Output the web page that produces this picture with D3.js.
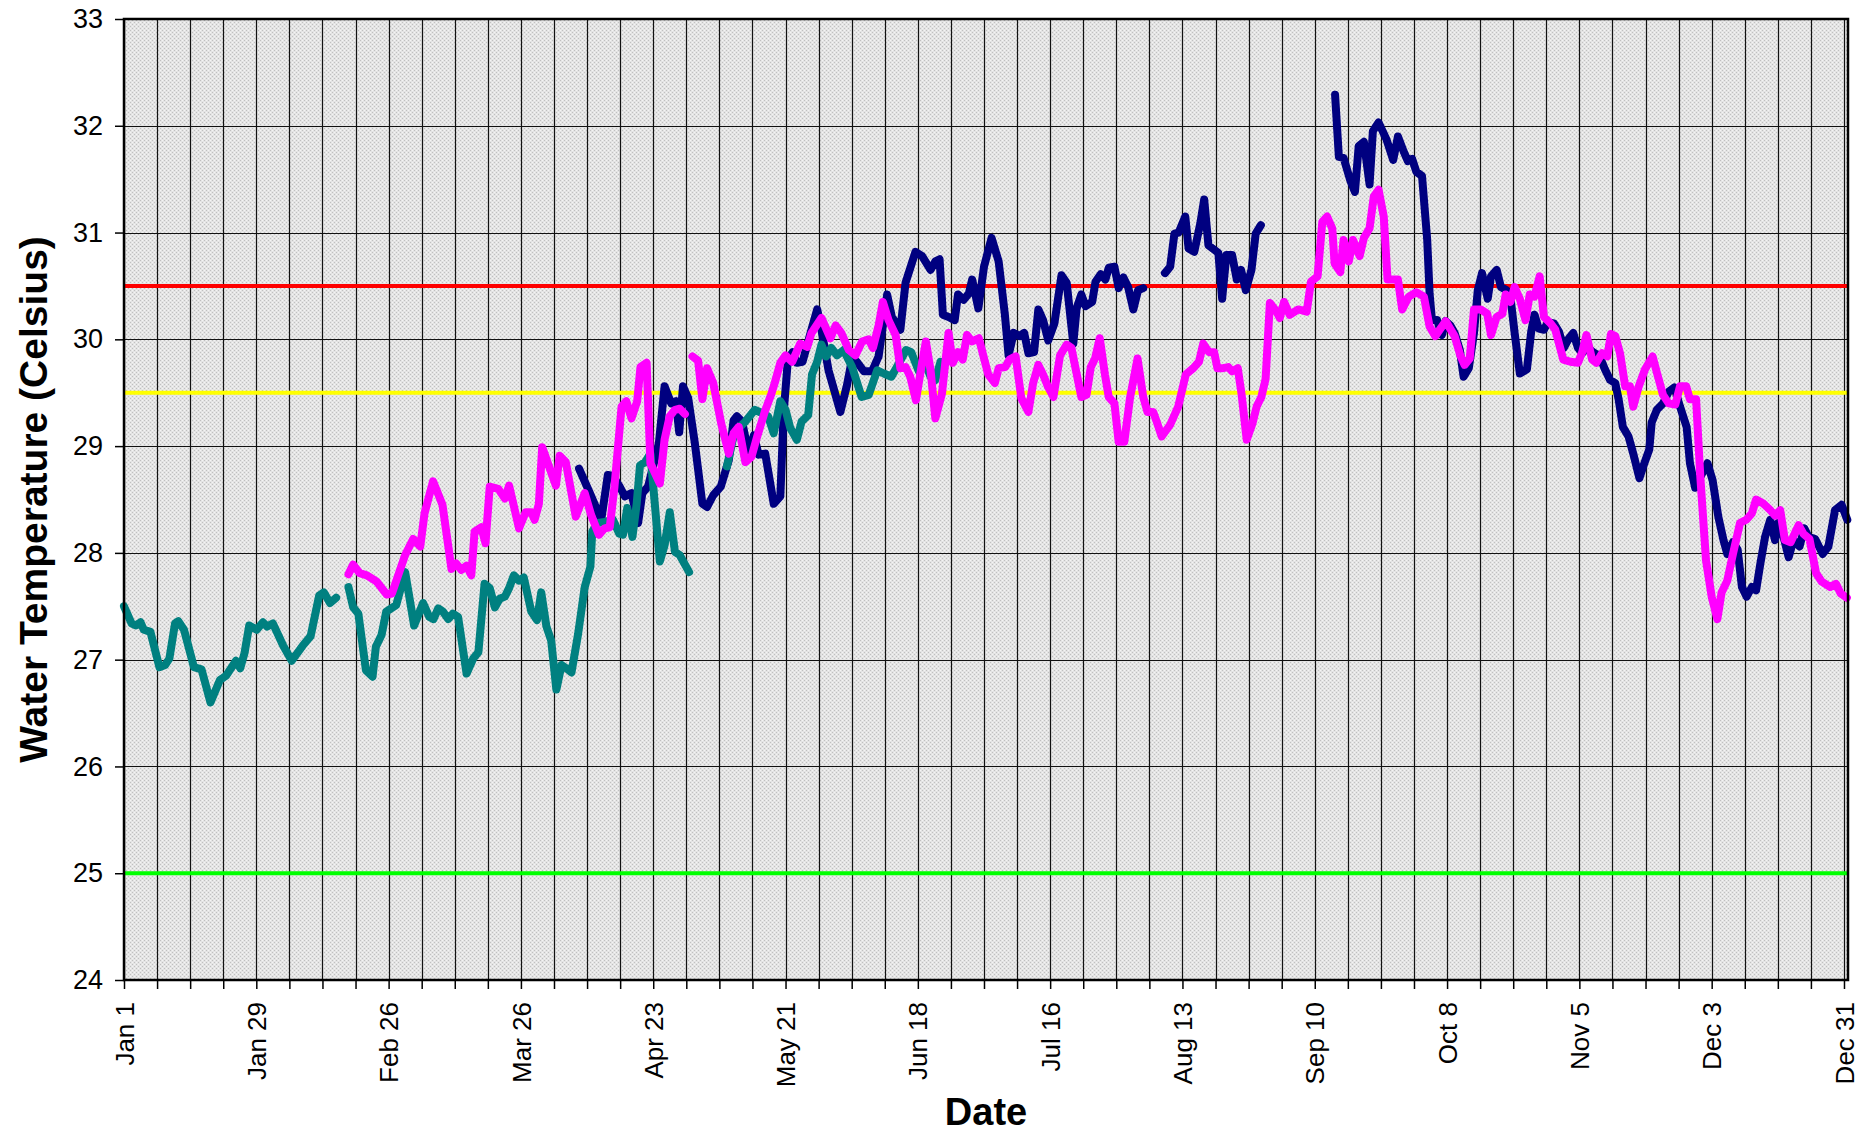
<!DOCTYPE html>
<html>
<head>
<meta charset="utf-8">
<script src="https://cdn.jsdelivr.net/npm/d3@7"></script>
<style>
  body { margin: 0; background: #fff; }
  svg text { font-family: Arial, "Liberation Sans", sans-serif; }
</style>
</head>
<body>
<svg id="chart" width="1873" height="1132"></svg>
<script>
// day of year (0 = Jan 1), water temp in celsius; null = gap in record
var tealTemps = [
  [0,27.50],[1.6,27.34],[2.5,27.32],[3.5,27.35],[4.2,27.28],[5.6,27.26],[7.5,26.93],[8.7,26.95],[9.6,27.01],
  [10.8,27.34],[11.5,27.36],[12.7,27.28],[14.8,26.93],[16.4,26.91],[18.3,26.60],[20.3,26.81],[21.6,26.85],
  [23.7,26.99],[24.6,26.92],[25.5,27.06],[26.5,27.32],[28.1,27.28],[29.4,27.35],[30.3,27.31],[31.5,27.34],
  [33.7,27.13],[35.5,26.99],[37.8,27.13],[39.5,27.22],[41.3,27.60],[42.3,27.63],[43.6,27.53],[44.9,27.58],
  null,
  [47.5,27.68],[48.5,27.49],[49.6,27.43],[51.2,26.90],[52.6,26.84],[53.3,27.12],[54.5,27.23],[55.5,27.45],
  [57.6,27.51],[59.5,27.82],[61.4,27.32],[63.3,27.53],[64.6,27.40],[65.5,27.38],[66.5,27.48],[67.5,27.45],
  [68.6,27.38],[69.6,27.43],[70.7,27.40],[72.5,26.87],[73.9,27.01],[75,27.07],[76.3,27.71],[77.4,27.67],
  [78.5,27.49],[79.5,27.57],[80.6,27.59],[81.5,27.67],[82.5,27.79],[83.6,27.74],[84.6,27.77],[86.2,27.45],
  [87.4,27.37],[88.3,27.63],[89.4,27.31],[90.4,27.18],[91.5,26.72],[92.6,26.95],[93.6,26.92],[94.7,26.88],
  [96.1,27.24],[97.5,27.68],[98.7,27.87],[99.1,28.20],[100.3,28.28],[101.7,28.29],[103.5,28.31],[104.8,28.18],
  [105.6,28.17],[106.5,28.42],[107.6,28.15],[108.5,28.46],[109.2,28.82],[110.3,28.85],[111.4,28.93],
  [113.4,27.92],[114.4,28.07],[115.5,28.38],[116.6,28.01],[117.6,27.98],[119.6,27.82],
  null,
  [127.6,28.81],[129,29.09],[130.1,29.17],[131.5,29.23],[133.5,29.34],[135,29.31],[136.3,29.28],[137.5,29.12],
  [138.9,29.42],[140,29.34],[141,29.17],[142.4,29.06],[143.4,29.23],[144.8,29.29],[145.6,29.67],[146.7,29.79],
  [147.6,29.95],[148.6,29.84],[149.7,29.92],[150.9,29.85],[152.3,29.90],[154.1,29.74],[156.1,29.46],
  [157.6,29.48],[159.4,29.71],[160.8,29.68],[162.4,29.65],[163.8,29.76],[165.5,29.90],[166.6,29.88],
  [168.2,29.70],[169.5,29.78],[170.7,29.65],[171.7,29.62],[172.8,29.79]
];

var magentaTemps = [
  [47.5,27.80],[48.5,27.89],[49.9,27.81],[51.4,27.79],[53.5,27.73],[55.6,27.61],[56.7,27.62],[59.5,27.98],
  [61.2,28.13],[62.7,28.06],[63.6,28.37],[65.4,28.67],[67.4,28.45],[69.3,27.85],[70.3,27.90],[71.4,27.84],
  [72.5,27.88],[73.5,27.79],[74.2,28.20],[75.6,28.24],[76.5,28.09],[77.4,28.62],[79.2,28.60],[80.6,28.51],
  [81.5,28.63],[83.6,28.23],[85,28.38],[86.2,28.38],[86.9,28.31],[87.8,28.46],[88.5,28.99],[89.7,28.84],
  [91.4,28.63],[92.2,28.91],[93.5,28.85],[95.6,28.34],[97.5,28.56],[98.9,28.35],[100.5,28.17],[101.7,28.23],
  [102.8,28.24],[103.8,28.62],[105.3,29.37],[106.3,29.42],[107.4,29.26],[108.6,29.42],[109.3,29.74],
  [110.6,29.78],[111.4,28.84],[113.4,28.65],[114.4,29.06],[115.5,29.28],[116.6,29.34],[117.6,29.35],[118.7,29.30],
  null,
  [120.3,29.84],[121.5,29.80],[122.4,29.44],[123.4,29.73],[124.7,29.59],[126.4,29.21],[128,28.93],[129,29.12],
  [130.1,29.18],[131.5,28.85],[132.8,28.90],[134,29.09],[135.6,29.32],[137,29.49],[137.7,29.59],[138.9,29.78],
  [140,29.85],[141.4,29.79],[143.1,29.96],[144.6,29.93],[145.5,30.06],[147.6,30.20],[149.5,30.01],[150.6,30.13],
  [151.8,30.06],[153.4,29.90],[154.8,29.85],[156.2,29.98],[157.6,30.00],[158.5,29.92],[159.7,30.13],[160.6,30.35],
  [161.8,30.18],[163.3,30.04],[164.3,29.73],[165.4,29.74],[166.4,29.65],[167.6,29.43],[168.9,29.78],[169.7,29.98],
  [170.7,29.71],[171.7,29.26],[173.1,29.49],[174.5,30.06],[175.4,29.78],[176.5,29.88],[177.5,29.81],[178.4,30.04],
  [179.5,29.98],[180.9,30.01],[182.9,29.67],[184.3,29.59],[185.1,29.73],[186.5,29.74],[187.4,29.81],[188.7,29.84],
  [189.9,29.45],[191.4,29.32],[192.4,29.59],[193.5,29.76],[194.5,29.67],[195.5,29.56],[196.7,29.46],[198.1,29.85],
  [199.5,29.95],[200.5,29.92],[202.6,29.46],[203.7,29.48],[204.6,29.74],[205.5,29.82],[206.5,30.01],[207.6,29.67],
  [208.4,29.46],[209.6,29.40],[210.5,29.04],[211.7,29.04],[212.9,29.45],[214.5,29.82],[215.7,29.46],[216.6,29.32],
  [217.8,29.32],[218.7,29.21],[219.6,29.09],[221.4,29.20],[223.1,29.37],[224.7,29.67],[226.3,29.73],[227.5,29.79],
  [228.4,29.96],[229.6,29.88],[230.7,29.88],[231.4,29.73],[232.6,29.73],[233.7,29.74],[234.5,29.70],[235.7,29.73],
  [236.5,29.49],[237.6,29.06],[238.8,29.21],[239.7,29.37],[240.7,29.46],[241.6,29.63],[242.5,30.34],[243.9,30.26],
  [244.6,30.20],[245.5,30.35],[246.7,30.23],[248.5,30.28],[250.3,30.26],[251.2,30.54],[252.6,30.59],[253.6,31.10],
  [254.6,31.15],[255.7,31.04],[256.2,30.71],[257.4,30.63],[258.1,30.93],[259.2,30.73],[260.1,30.93],[261.5,30.78],
  [262.4,30.95],[263.6,31.04],[264.5,31.34],[265.5,31.40],[266.6,31.15],[267.4,30.56],[269.6,30.56],[270.5,30.28],
  [271.9,30.40],[273.5,30.44],[275.1,30.40],[276.3,30.12],[277.5,30.03],[279.7,30.17],[281.6,30.03],[282.8,29.85],
  [283.7,29.76],[284.8,29.82],[285.7,30.28],[287.1,30.28],[288.5,30.24],[289.3,30.04],[290.5,30.21],[291.7,30.24],
  [292.4,30.42],[293.4,30.35],[294.3,30.49],[295.4,30.38],[296.6,30.18],[297.5,30.42],[298.5,30.40],[299.6,30.59],
  [300.5,30.21],[301.9,30.15],[302.9,30.09],[304.6,29.81],[306.1,29.79],[307.7,29.78],[308.6,29.88],[309.5,30.04],
  [310.7,29.81],[311.6,29.78],[312.8,29.87],[313.9,29.84],[314.7,30.05],[315.6,30.03],[316.6,29.87],[317.7,29.56],
  [318.7,29.56],[319.4,29.37],[320.5,29.55],[321.9,29.72],[323.5,29.84],[324.4,29.69],[325.7,29.48],[326.9,29.40],
  [328.3,29.39],[329.3,29.56],[330.6,29.56],[331.4,29.44],[332.7,29.44],[333.6,28.71],[334.8,27.93],[336,27.59],
  [337.2,27.38],[338.1,27.63],[339.3,27.74],[340.5,27.99],[342,28.28],[343.3,28.31],[344.5,28.37],[345.4,28.50],
  [347,28.46],[348.4,28.40],[349.4,28.35],[350.5,28.40],[351.5,28.12],[352.7,28.10],[354.4,28.26],[355.4,28.18],
  [356.7,28.13],[358.1,27.81],[359.3,27.73],[361.1,27.68],[362.3,27.71],[363.3,27.62],[364.6,27.58]
];

var navyTemps = [
  [96.3,28.79],[98.6,28.56],[101.0,28.31],[102.4,28.73],[103.5,28.72],[104.9,28.62],[106,28.53],[107.4,28.56],
  [108.8,28.28],[109.7,28.56],[110.9,28.62],[113.2,29.03],[114.4,29.56],[115.8,29.40],[116.8,29.42],[117.5,29.13],
  [118.3,29.56],[119.4,29.45],[120.8,29.03],[122.4,28.46],[123.4,28.43],[124.7,28.54],[126.3,28.62],[128,28.87],
  [129,29.24],[129.7,29.28],[130.8,29.23],[132.2,28.93],[133.3,29.10],[134.3,28.92],[135.7,28.93],[137.5,28.46],
  [138.9,28.53],[139.6,29.31],[140.5,29.81],[141.5,29.88],[142.4,29.78],[143.6,29.79],[145.3,30.06],[146.7,30.28],
  [147.6,30.09],[149.1,29.71],[151.6,29.32],[153,29.57],[154.1,29.82],[155.1,29.79],[156.6,29.70],[158.3,29.70],
  [159.7,29.84],[161.5,30.42],[162.5,30.21],[164.3,30.09],[165.4,30.53],[167.5,30.82],[168.9,30.78],[170.7,30.65],
  [171.7,30.73],[172.6,30.75],[173.3,30.23],[174.5,30.21],[175.8,30.18],[176.5,30.42],[177.7,30.37],[178.8,30.43],
  [179.5,30.56],[180.8,30.29],[182,30.68],[183.6,30.95],[185.1,30.73],[186.4,30.24],[187.2,29.85],[188.3,30.06],
  [189.5,30.03],[190.5,30.06],[191.4,29.87],[192.6,29.88],[193.5,30.28],[194.5,30.18],[195.6,29.99],[196.9,30.15],
  [198.4,30.60],[199.5,30.53],[200.9,29.96],[201.6,30.29],[202.6,30.42],[203.5,30.31],[204.9,30.35],[205.6,30.54],
  [206.7,30.61],[207.7,30.56],[208.4,30.67],[209.6,30.68],[210.5,30.48],[211.5,30.58],[212.5,30.49],[213.6,30.28],
  [214.6,30.46],[215.7,30.48],
  null,
  [220.3,30.62],[221.4,30.68],[222.3,30.99],[223.2,31.00],[224.6,31.15],[225.3,30.85],[226.5,30.82],[227.8,31.09],
  [228.6,31.31],[229.5,30.88],[230.7,30.84],[231.6,30.81],[232.4,30.38],[233.3,30.79],[234.5,30.79],[235.5,30.56],
  [236.4,30.65],[237.4,30.46],[238.6,30.65],[239.5,30.99],[240.6,31.07],
  null,
  [256.3,32.29],[257.1,31.71],[258.1,31.70],[259.5,31.49],[260.5,31.38],[261.3,31.81],[262.4,31.85],[263.6,31.45],
  [264.3,31.95],[265.5,32.03],[267.2,31.87],[268.6,31.68],[269.6,31.90],[270.8,31.76],[271.7,31.67],[272.6,31.69],
  [273.5,31.57],[274.7,31.53],[275.8,30.93],[276.3,30.43],[276.8,30.18],[277.9,30.18],[278.9,30.04],[279.7,30.17],
  [280.7,30.13],[281.6,30.06],[282.7,29.90],[283.5,29.65],[284.6,29.73],[285.7,30.06],[286.5,30.46],[287.4,30.62],
  [288.6,30.38],[289.3,30.59],[290.5,30.65],[291.4,30.49],[292.6,30.46],[293.4,30.40],[294.3,30.06],[295.4,29.68],
  [296.9,29.72],[297.8,30.07],[298.5,30.23],[299.4,30.10],[300.5,30.09],[301.3,30.16],[302.6,30.15],[303.7,30.07],
  [304.7,29.92],[305.8,30.01],[306.7,30.06],[307.7,29.92],[308.6,29.87],[309.6,29.93],[310.9,29.88],[312.3,29.84],
  [313.4,29.72],[314.5,29.62],[315.6,29.59],[316.3,29.44],[317.2,29.18],[318.4,29.09],[319.4,28.93],[320.7,28.70],
  [321.6,28.82],[322.8,28.97],[323.3,29.22],[324.4,29.34],[325.7,29.40],[326.9,29.51],[328.1,29.55],[329.3,29.37],
  [330.7,29.18],[331.4,28.84],[332.5,28.61],[333.6,28.71],[335.1,28.84],[336.2,28.68],[337.4,28.34],[338.5,28.12],
  [339.3,27.99],[340.5,28.10],[341.5,28.03],[342.4,27.68],[343.4,27.59],[344.5,27.68],[345.4,27.65],[346.3,27.90],
  [347.3,28.15],[348.4,28.31],[349.4,28.12],[350.1,28.28],[351.2,28.15],[352.3,27.96],[353.3,28.12],[354.6,28.06],
  [355.6,28.23],[356.5,28.15],[357.9,28.13],[359.5,27.99],[360.7,28.06],[362.1,28.40],[363.5,28.45],[364.7,28.31]
];

var xTickLabels = ["Jan 1","Jan 29","Feb 26","Mar 26","Apr 23","May 21","Jun 18",
                   "Jul 16","Aug 13","Sep 10","Oct 8","Nov 5","Dec 3","Dec 31"];
var yTicks = [24,25,26,27,28,29,30,31,32,33];
var thresholdTemps = [25, 29.5, 30.5];
var thresholdColors = ["#00ff00", "#ffff00", "#ff0000"];

var plotLeft = 124, plotRight = 1848, plotTop = 19, plotBottom = 980;

var svg = d3.select("#chart");

var x = d3.scaleLinear().domain([0, 364.85]).range([plotLeft, plotRight]);
var y = d3.scaleLinear().domain([24, 33]).range([plotBottom, plotTop]);

// background fill, fine grey stipple
var defs = svg.append("defs");
var pat = defs.append("pattern")
  .attr("id", "stipple")
  .attr("width", 4).attr("height", 4)
  .attr("patternUnits", "userSpaceOnUse");
pat.append("rect").attr("width", 4).attr("height", 4).attr("fill", "#e4e4e4");
pat.append("rect").attr("x", 0).attr("y", 0).attr("width", 1).attr("height", 1).attr("fill", "#c0c0c0");
pat.append("rect").attr("x", 2).attr("y", 2).attr("width", 1).attr("height", 1).attr("fill", "#c0c0c0");
pat.append("rect").attr("x", 2).attr("y", 0).attr("width", 1).attr("height", 1).attr("fill", "#f4f4f4");
pat.append("rect").attr("x", 0).attr("y", 2).attr("width", 1).attr("height", 1).attr("fill", "#f4f4f4");

svg.append("rect")
  .attr("x", plotLeft).attr("y", plotTop)
  .attr("width", plotRight - plotLeft).attr("height", plotBottom - plotTop)
  .attr("fill", "url(#stipple)");

var weeks = d3.range(0, 365, 7);

// grid
svg.append("g").selectAll("line")
  .data(weeks)
  .enter().append("line")
  .attr("x1", function(d){ return Math.round(x(d)) + 0.5 })
  .attr("x2", function(d){ return Math.round(x(d)) + 0.5 })
  .attr("y1", plotTop).attr("y2", plotBottom)
  .attr("stroke", "#111").attr("stroke-width", 1.2);

svg.append("g").selectAll("line")
  .data(yTicks.slice(1, -1))
  .enter().append("line")
  .attr("x1", plotLeft).attr("x2", plotRight)
  .attr("y1", function(d){ return Math.round(y(d)) + 0.5 })
  .attr("y2", function(d){ return Math.round(y(d)) + 0.5 })
  .attr("stroke", "#111").attr("stroke-width", 1.2);

// threshold lines
svg.append("g").selectAll("line")
  .data(thresholdTemps)
  .enter().append("line")
  .attr("x1", plotLeft).attr("x2", plotRight)
  .attr("y1", function(d){ return y(d) })
  .attr("y2", function(d){ return y(d) })
  .attr("stroke", function(d, i){ return thresholdColors[i] })
  .attr("stroke-width", 4);

// series
var line = d3.line()
  .defined(function(d){ return d !== null })
  .x(function(d){ return x(d[0]) })
  .y(function(d){ return y(d[1]) });

var series = [
  {data: navyTemps, color: "#000080"},
  {data: tealTemps, color: "#008080"},
  {data: magentaTemps, color: "#ff00ff"}
];

svg.append("g").selectAll("path")
  .data(series)
  .enter().append("path")
  .attr("d", function(d){ return line(d.data) })
  .attr("fill", "none")
  .attr("stroke", function(d){ return d.color })
  .attr("stroke-width", 8)
  .attr("stroke-linejoin", "round")
  .attr("stroke-linecap", "round");

// frame
svg.append("rect")
  .attr("x", plotLeft).attr("y", plotTop)
  .attr("width", plotRight - plotLeft).attr("height", plotBottom - plotTop)
  .attr("fill", "none").attr("stroke", "#000").attr("stroke-width", 2.5);

// axes
var yAxis = d3.axisLeft(y).tickValues(yTicks).tickSize(9).tickPadding(12);
var gy = svg.append("g").attr("transform", "translate(" + plotLeft + ",0)").call(yAxis);
gy.select(".domain").remove();
gy.selectAll("line").attr("stroke", "#000").attr("stroke-width", 1.5);
gy.selectAll("text").attr("font-size", 27).attr("fill", "#000")
  .attr("font-family", "Arial, 'Liberation Sans', sans-serif");

var xAxis = d3.axisBottom(x).tickValues(weeks).tickSize(9)
  .tickFormat(function(d, i){ return i % 4 === 0 ? xTickLabels[i / 4] : "" });
var gx = svg.append("g").attr("transform", "translate(0," + plotBottom + ")").call(xAxis);
gx.select(".domain").remove();
gx.selectAll("line").attr("stroke", "#000").attr("stroke-width", 1.5);
gx.selectAll("text")
  .attr("font-size", 26).attr("fill", "#000")
  .attr("font-family", "Arial, 'Liberation Sans', sans-serif")
  .attr("transform", "rotate(-90)")
  .attr("text-anchor", "end")
  .attr("x", -22).attr("y", 0).attr("dy", "0.35em");

// titles
svg.append("text")
  .attr("x", (plotLeft + plotRight) / 2).attr("y", 1125)
  .attr("text-anchor", "middle")
  .attr("font-size", 38).attr("font-weight", "bold")
  .text("Date");

svg.append("text")
  .attr("transform", "translate(47," + (plotTop + plotBottom) / 2 + ") rotate(-90)")
  .attr("text-anchor", "middle")
  .attr("font-size", 39).attr("font-weight", "bold")
  .text("Water Temperature (Celsius)");
</script>
</body>
</html>
